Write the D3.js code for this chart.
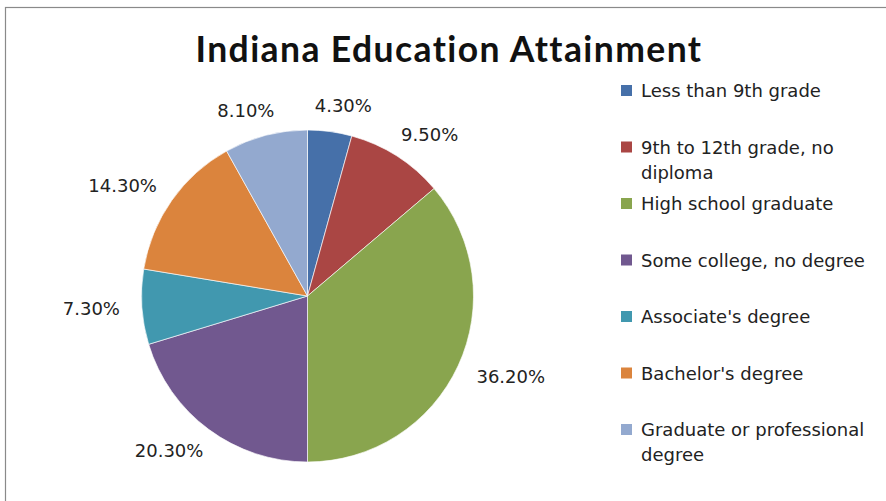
<!DOCTYPE html>
<html>
<head>
<meta charset="utf-8">
<script src="https://cdn.jsdelivr.net/npm/d3@7"></script>
<style>
  html, body { margin: 0; padding: 0; background: #fff; }
  svg { display: block; }
</style>
</head>
<body>
<svg id="chart" width="886" height="501"></svg>
<script>
// Educational attainment shares, Indiana (percent of adults)
const categories = [
  "Less than 9th grade",
  "9th to 12th grade, no diploma",
  "High school graduate",
  "Some college, no degree",
  "Associate's degree",
  "Bachelor's degree",
  "Graduate or professional degree"
];
const shares = [4.3, 9.5, 36.2, 20.3, 7.3, 14.3, 8.1];
const sliceColors = ["#4670A9", "#AA4644", "#89A54E", "#71588F", "#4198AF", "#DB843D", "#93A9CF"];
const chartTitle = "Indiana Education Attainment";

const svg = d3.select("#chart");
const W = 886, H = 501;
const bodyFont = "'DejaVu Sans', Verdana, sans-serif";
const textSize = 18;

// chart frame
svg.append("rect")
  .attr("x", 5.5).attr("y", 7.5)
  .attr("width", W + 10).attr("height", H + 10)
  .attr("fill", "#fff")
  .attr("stroke", "#8a8a8a").attr("stroke-width", 1.2);

// title
svg.append("text")
  .attr("x", 449).attr("y", 62)
  .attr("text-anchor", "middle")
  .attr("font-family", "Lato, 'Open Sans', sans-serif")
  .attr("font-weight", "bold")
  .attr("font-size", 35.5)
  .attr("letter-spacing", 1.4)
  .attr("fill", "#111")
  .text(chartTitle);

const cx = 307.5, cy = 296, r = 166;
const data = categories.map((c, i) => ({ name: c, value: shares[i], color: sliceColors[i] }));

const pie = d3.pie().sort(null).value(d => d.value);
const arcs = pie(data);
const arc = d3.arc().innerRadius(0).outerRadius(r);

const g = svg.append("g").attr("transform", `translate(${cx},${cy})`);
g.selectAll("path.slice")
  .data(arcs)
  .join("path")
  .attr("class", "slice")
  .attr("d", arc)
  .attr("fill", d => d.data.color)
  .attr("stroke", "#fff")
  .attr("stroke-width", 0.8)
  .attr("stroke-opacity", 0.8);

// value labels sit just outside the rim along each slice's mid-angle
const fmt = d3.format(".2f");
const labels = g.selectAll("text.val")
  .data(arcs)
  .join("text")
  .attr("class", "val")
  .attr("font-family", bodyFont)
  .attr("font-size", textSize)
  .attr("fill", "#222")
  .attr("text-anchor", "middle")
  .text(d => fmt(d.data.value) + "%");

labels.each(function(d) {
  const a = (d.startAngle + d.endAngle) / 2;
  const ux = Math.sin(a), uy = -Math.cos(a);
  const w = this.getComputedTextLength();
  const px = ux * (r + 22) + Math.sign(ux) * (w / 2) * Math.sqrt(Math.abs(ux));
  const py = uy * (r + 26);
  d3.select(this).attr("x", px).attr("y", py + 6.5);
});

// legend
const legX = 621, legY0 = 90.5, legStep = 56.5, lineH = 25, maxW = 245;
const legend = svg.append("g");

function wrapLines(text, sel) {
  const words = text.split(" ");
  const lines = [];
  let cur = "";
  const probe = sel.append("text")
    .attr("font-family", bodyFont)
    .attr("font-size", textSize);
  words.forEach(wd => {
    const test = cur ? cur + " " + wd : wd;
    probe.text(test);
    if (probe.node().getComputedTextLength() > maxW && cur) {
      lines.push(cur);
      cur = wd;
    } else {
      cur = test;
    }
  });
  if (cur) lines.push(cur);
  probe.remove();
  return lines;
}

data.forEach((d, i) => {
  const y = legY0 + i * legStep;
  legend.append("rect")
    .attr("x", legX).attr("y", y - 5.5)
    .attr("width", 11).attr("height", 11)
    .attr("fill", d.color);
  const lines = wrapLines(d.name, legend);
  const t = legend.append("text")
    .attr("font-family", bodyFont)
    .attr("font-size", textSize)
    .attr("fill", "#222");
  lines.forEach((ln, j) => {
    t.append("tspan")
      .attr("x", legX + 20)
      .attr("y", y + 6.5 + j * lineH)
      .text(ln);
  });
});
</script>
</body>
</html>
